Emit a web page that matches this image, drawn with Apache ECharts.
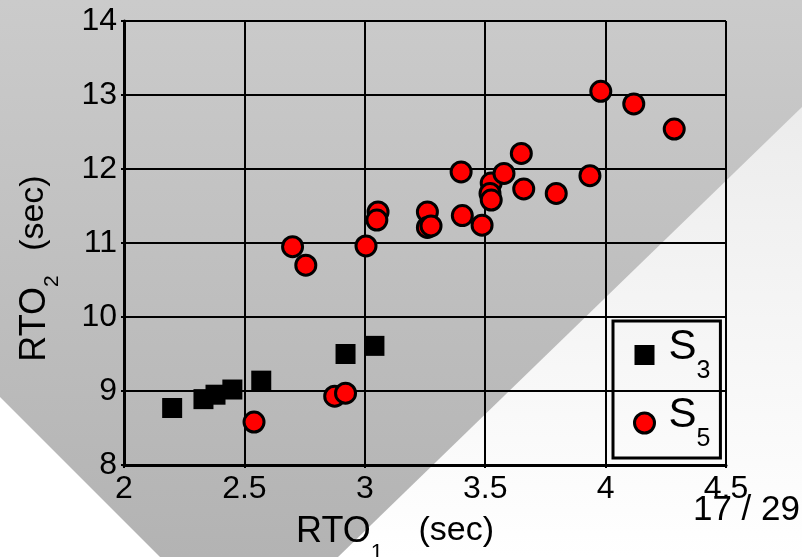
<!DOCTYPE html>
<html>
<head>
<meta charset="utf-8">
<title>RTO1 vs RTO2</title>
<script src="https://cdn.jsdelivr.net/npm/echarts@6/dist/echarts.min.js"></script>
<style>
  html, body { margin: 0; padding: 0; }
  #chart { width: 802px; height: 557px; }
</style>
</head>
<body>
<div id="chart"></div>
<script>
// RTO_1 / RTO_2 pairs (sec)
const s3X = [2.20, 2.33, 2.38, 2.45, 2.57, 2.92, 3.04]
const s3Y = [8.77, 8.89, 8.95, 9.02, 9.14, 9.50, 9.61]

const s5X = [2.54, 2.875, 2.92, 2.70, 2.755, 3.005, 3.055, 3.05, 3.26, 3.26, 3.275,
  3.40, 3.405, 3.487, 3.525, 3.52, 3.525, 3.578, 3.65, 3.66, 3.795, 3.935, 3.98, 4.117, 4.285]
const s5Y = [8.58, 8.93, 8.97, 10.95, 10.70, 10.96, 11.42, 11.31, 11.42, 11.21, 11.23,
  11.96, 11.37, 11.24, 11.81, 11.67, 11.58, 11.94, 12.21, 11.73, 11.67, 11.91, 13.05, 12.88, 12.54]

const seriesNames = ['S3', 'S5']
const subscripts = { S3: '3', S5: '5' }
const pageLabel = '17 / 29'

const font = '"Liberation Sans", Arial, Helvetica, sans-serif'

const chart = echarts.init(document.getElementById('chart'))

const pairs = (xs, ys) => xs.map((x, i) => [x, ys[i]])

chart.setOption({
  animation: false,
  textStyle: { fontFamily: font, color: '#000' },
  graphic: [
    {
      type: 'rect', z: -10, silent: true,
      shape: { x: 0, y: 0, width: 802, height: 557 },
      style: {
        fill: new echarts.graphic.LinearGradient(0, 0, 0, 1, [
          { offset: 0, color: '#cbcbcb' },
          { offset: 1, color: '#b3b3b3' }
        ])
      }
    },
    {
      type: 'polygon', z: -9, silent: true,
      shape: { points: [[0, 397], [160, 557], [0, 557]] },
      style: { fill: '#ffffff' }
    },
    {
      type: 'polygon', z: -9, silent: true,
      shape: { points: [[802, 107], [802, 557], [338, 557]] },
      style: {
        fill: new echarts.graphic.LinearGradient(0, 0, 0, 1, [
          { offset: 0, color: '#ececec' },
          { offset: 1, color: '#ffffff' }
        ])
      }
    },
    {
      type: 'text', right: 2, top: 493,
      style: { text: pageLabel, font: '35px ' + font, fill: '#000' }
    }
  ],
  grid: {
    left: 124,
    top: 21,
    right: 76,
    bottom: 92,
    containLabel: false,
    outerBoundsMode: 'none'
  },
  legend: {
    orient: 'vertical',
    left: 613,
    top: 321,
    padding: [5, 10, 6, 20],
    itemGap: 10,
    itemWidth: 20,
    itemHeight: 20,
    borderColor: '#000',
    borderWidth: 3,
    backgroundColor: 'transparent',
    data: [
      { name: seriesNames[0], icon: 'rect', itemStyle: { color: '#000', borderWidth: 0 } },
      { name: seriesNames[1], icon: 'circle', itemStyle: { color: '#ff0000', borderColor: '#000', borderWidth: 3 } }
    ],
    formatter: name => '{s|S}{n|' + subscripts[name] + '}',
    textStyle: {
      rich: {
        s: { fontSize: 42, lineHeight: 42, verticalAlign: 'top', fontFamily: font, color: '#000', padding: [0, 0, 0, 9] },
        n: { fontSize: 25, lineHeight: 58, verticalAlign: 'bottom', fontFamily: font, color: '#000' }
      }
    }
  },
  xAxis: {
    type: 'value',
    min: 2,
    max: 4.5,
    interval: 0.5,
    name: '{a|RTO}{b|1}{c| (sec)}',
    nameLocation: 'middle',
    nameGap: 49,
    nameTextStyle: {
      padding: [0, 60, 0, 0],
      rich: {
        a: { fontSize: 36, lineHeight: 36, verticalAlign: 'top', fontFamily: font, color: '#000' },
        b: { fontSize: 22, lineHeight: 50, verticalAlign: 'bottom', fontFamily: font, color: '#000' },
        c: { fontSize: 34, lineHeight: 36, verticalAlign: 'top', fontFamily: font, color: '#000', padding: [0, 0, 0, 26] }
      }
    },
    axisLine: { onZero: false, lineStyle: { color: '#000', width: 3 } },
    axisTick: { show: true, length: 3, lineStyle: { color: '#000', width: 2 } },
    axisLabel: { fontSize: 32, margin: 8, color: '#000', fontFamily: font },
    splitLine: { show: true, lineStyle: { color: '#000', width: 2 } }
  },
  yAxis: {
    type: 'value',
    min: 8,
    max: 14,
    interval: 1,
    name: '{a|RTO}{b|2}{c| (sec)}',
    nameLocation: 'middle',
    nameGap: 61,
    nameTextStyle: {
      padding: [0, 51, 0, 0],
      rich: {
        a: { fontSize: 36, lineHeight: 36, verticalAlign: 'top', fontFamily: font, color: '#000' },
        b: { fontSize: 21, lineHeight: 46, verticalAlign: 'bottom', fontFamily: font, color: '#000' },
        c: { fontSize: 34, lineHeight: 36, verticalAlign: 'top', fontFamily: font, color: '#000', padding: [0, 0, 0, 15] }
      }
    },
    axisLine: { onZero: false, lineStyle: { color: '#000', width: 3 } },
    axisTick: { show: true, length: 3, lineStyle: { color: '#000', width: 2 } },
    axisLabel: { fontSize: 32, margin: 7, color: '#000', fontFamily: font },
    splitLine: { show: true, lineStyle: { color: '#000', width: 2 } }
  },
  series: [
    {
      name: seriesNames[0],
      type: 'scatter',
      symbol: 'rect',
      symbolSize: 20,
      itemStyle: { color: '#000', opacity: 1 },
      data: pairs(s3X, s3Y)
    },
    {
      name: seriesNames[1],
      type: 'scatter',
      symbol: 'circle',
      symbolSize: 20,
      itemStyle: { color: '#ff0000', borderColor: '#000', borderWidth: 3, opacity: 1 },
      data: pairs(s5X, s5Y)
    }
  ]
})
</script>
</body>
</html>
